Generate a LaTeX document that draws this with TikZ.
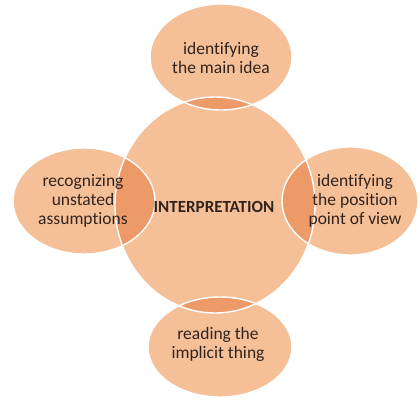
\documentclass[tikz,border=0pt]{standalone}
\usepackage{fontspec}
\setmainfont{Carlito}[Ligatures=NoCommon]
\definecolor{peach}{RGB}{245,191,152}
\definecolor{peachdark}{RGB}{236,154,104}
\definecolor{txt}{RGB}{50,36,28}
\begin{document}
\begin{tikzpicture}[x=1pt,y=1pt,
  bubble/.style={fill=peach},
  outline/.style={draw=white,line width=1.4pt},
  lbl/.style={text=txt,align=center,font=\fontsize{17.5}{19}\selectfont}]
\useasboundingbox (0,0) rectangle (419,399);
% geometry (image y flipped)
\coordinate (cC) at (215,194);
\coordinate (cT) at (221,342);
\coordinate (cL) at (84,198);
\coordinate (cR) at (350,198);
\coordinate (cB) at (220,52);
% fills
\fill[bubble] (cC) ellipse [x radius=100,y radius=108];
\fill[bubble] (cT) ellipse [x radius=71,y radius=53];
\fill[bubble] (cL) ellipse [x radius=71,y radius=53];
\fill[bubble] (cR) ellipse [x radius=68,y radius=54];
\fill[bubble] (cB) ellipse [x radius=72,y radius=50];
% overlaps
\begin{scope}
\clip (cC) ellipse [x radius=100,y radius=108];
\fill[peachdark] (cT) ellipse [x radius=71,y radius=53];
\fill[peachdark] (cL) ellipse [x radius=71,y radius=53];
\fill[peachdark] (cR) ellipse [x radius=68,y radius=54];
\fill[peachdark] (cB) ellipse [x radius=72,y radius=50];
\end{scope}
% outlines
\draw[outline] (cC) ellipse [x radius=100,y radius=108];
\draw[outline] (cT) ellipse [x radius=71,y radius=53];
\draw[outline] (cL) ellipse [x radius=71,y radius=53];
\draw[outline] (cR) ellipse [x radius=68,y radius=54];
\draw[outline] (cB) ellipse [x radius=72,y radius=50];
% labels
\node[lbl,font=\bfseries\fontsize{17}{19}\selectfont] (main) at (214,192) {INTERPRETATION};
\node[lbl] (top) at (221,341) {identifying\\the main idea};
\node[lbl] (left) at (83,198) {recognizing\\unstated\\assumptions};
\node[lbl] (right) at (355,198) {identifying\\the position\\point of view};
\node[lbl] (bottom) at (218,55) {reading the\\implicit thing};
\end{tikzpicture}
\end{document}
